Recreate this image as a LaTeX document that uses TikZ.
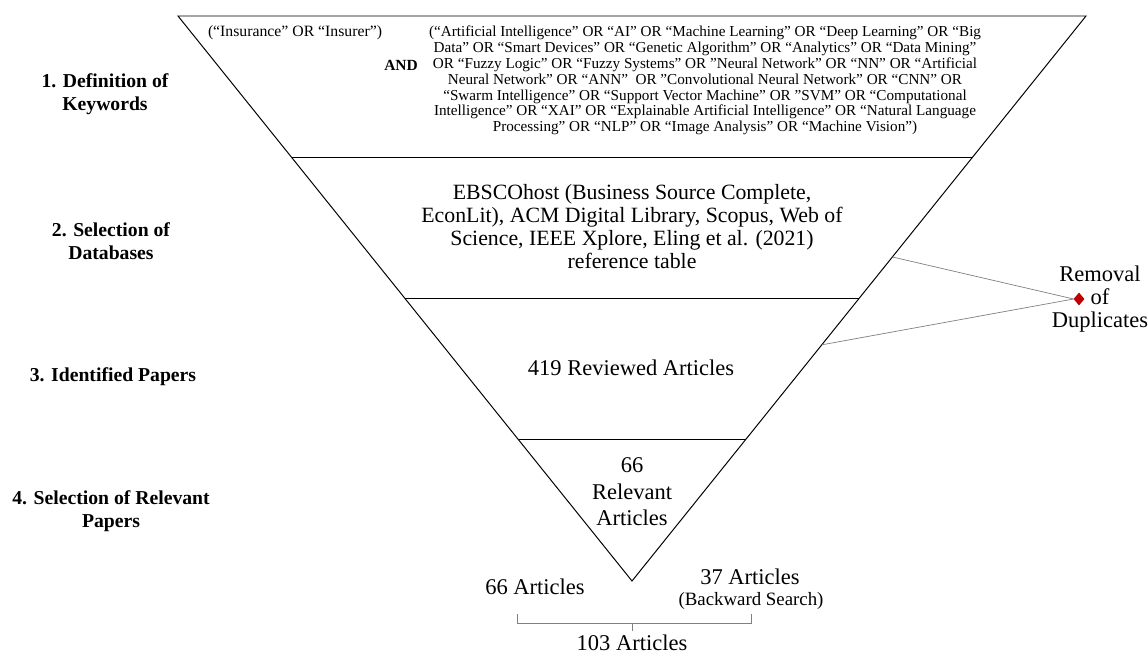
\documentclass[tikz,border=0pt]{standalone}
\usepackage{fontspec}
\setmainfont{Liberation Serif}
\usetikzlibrary{shapes.geometric,calc}
\definecolor{dupred}{HTML}{C00000}
\definecolor{linegray}{HTML}{808080}

\begin{document}
\begin{tikzpicture}[x=0.025cm, y=-0.025cm,
  every node/.style={align=center, inner sep=0pt, outer sep=0pt},
  steplabel/.style={font=\fontsize{14}{16.4}\selectfont\bfseries},
  keyword/.style={font=\fontsize{10.8}{11.3}\selectfont},
  funneltext/.style={font=\fontsize{16}{16.4}\selectfont}]
\useasboundingbox (0,0) rectangle (1148,655);

% funnel
\coordinate (tl) at (178,16);
\coordinate (tr) at (1086,16);
\coordinate (tip) at (632,581);
\draw[line width=0.7pt] (tl) -- (tr) -- (tip) -- cycle;
\foreach \t in {0.25,0.5,0.75}
  \draw[line width=0.7pt] ($(tl)!\t!(tip)$) -- ($(tr)!\t!(tip)$);

% steps
\node[steplabel] (step1) at (105,94) {1. Definition of\\Keywords};
\node[steplabel] (step2) at (111,241) {2. Selection of\\Databases};
\node[steplabel] (step3) at (113,377) {3. Identified Papers};
\node[steplabel] (step4) at (111,511) {4. Selection of Relevant\\Papers};

% keywords
\node[keyword, font=\fontsize{11.2}{11.3}\selectfont, anchor=west] (insurer) at (208,33) {(“Insurance” OR “Insurer”)};
\node[keyword, font=\fontsize{11}{11.3}\selectfont\bfseries] (and) at (401,65) {AND};
\node[keyword] (terms) at (705,80.5) {(“Artificial Intelligence” OR “AI” OR “Machine Learning” OR “Deep Learning” OR “Big\\
Data” OR “Smart Devices” OR “Genetic Algorithm” OR “Analytics” OR “Data Mining”\\
OR “Fuzzy Logic” OR “Fuzzy Systems” OR ”Neural Network” OR “NN” OR “Artificial\\
Neural Network” OR “ANN”\ \ OR ”Convolutional Neural Network” OR “CNN” OR\\
“Swarm Intelligence” OR “Support Vector Machine” OR ”SVM” OR “Computational\\
Intelligence” OR “XAI” OR “Explainable Artificial Intelligence” OR “Natural Language\\
Processing” OR “NLP” OR “Image Analysis” OR “Machine Vision”)};

% funnel texts
\node[funneltext, font=\fontsize{15.5}{16.4}\selectfont] (databases) at (632,226.5) {EBSCOhost (Business Source Complete,\\
EconLit), ACM Digital Library, Scopus, Web of\\
Science, IEEE Xplore, Eling et al. (2021)\\
reference table};
\node[funneltext] (reviewed) at (631,368) {419 Reviewed Articles};
\node[funneltext, font=\fontsize{16}{18.9}\selectfont] (relevant) at (632,492) {66\\Relevant\\Articles};

% duplicates
\node[diamond, fill=dupred, minimum width=0.27cm, minimum height=0.32cm] (dup) at (1079,299) {};
\node[funneltext] (duptext) at (1100,299) {Removal\\of\\Duplicates};
\coordinate (dupA) at ($(tr)!0.4265!(tip)$);
\coordinate (dupB) at ($(tr)!0.582!(tip)$);
\draw[linegray, line width=0.5pt] (dupA) -- (dup.west);
\draw[linegray, line width=0.5pt] (dupB) -- (dup.west);

% result
\node[funneltext] (found) at (535,587) {66 Articles};
\node[funneltext] (backward) at (750,577) {37 Articles};
\node[font=\fontsize{13.4}{14}\selectfont] (search) at (751,601) {(Backward Search)};
\node[funneltext] (total) at (632,643) {103 Articles};
\coordinate (bl) at (517,614);
\coordinate (br) at (751,614);
\coordinate (bm) at (632,623);
\draw[linegray, line width=0.5pt] (bl) -- (bl |- bm) -- (br |- bm) -- (br);
\draw[linegray, line width=0.5pt] (bm) -- ++(0,8);
\end{tikzpicture}
\end{document}
